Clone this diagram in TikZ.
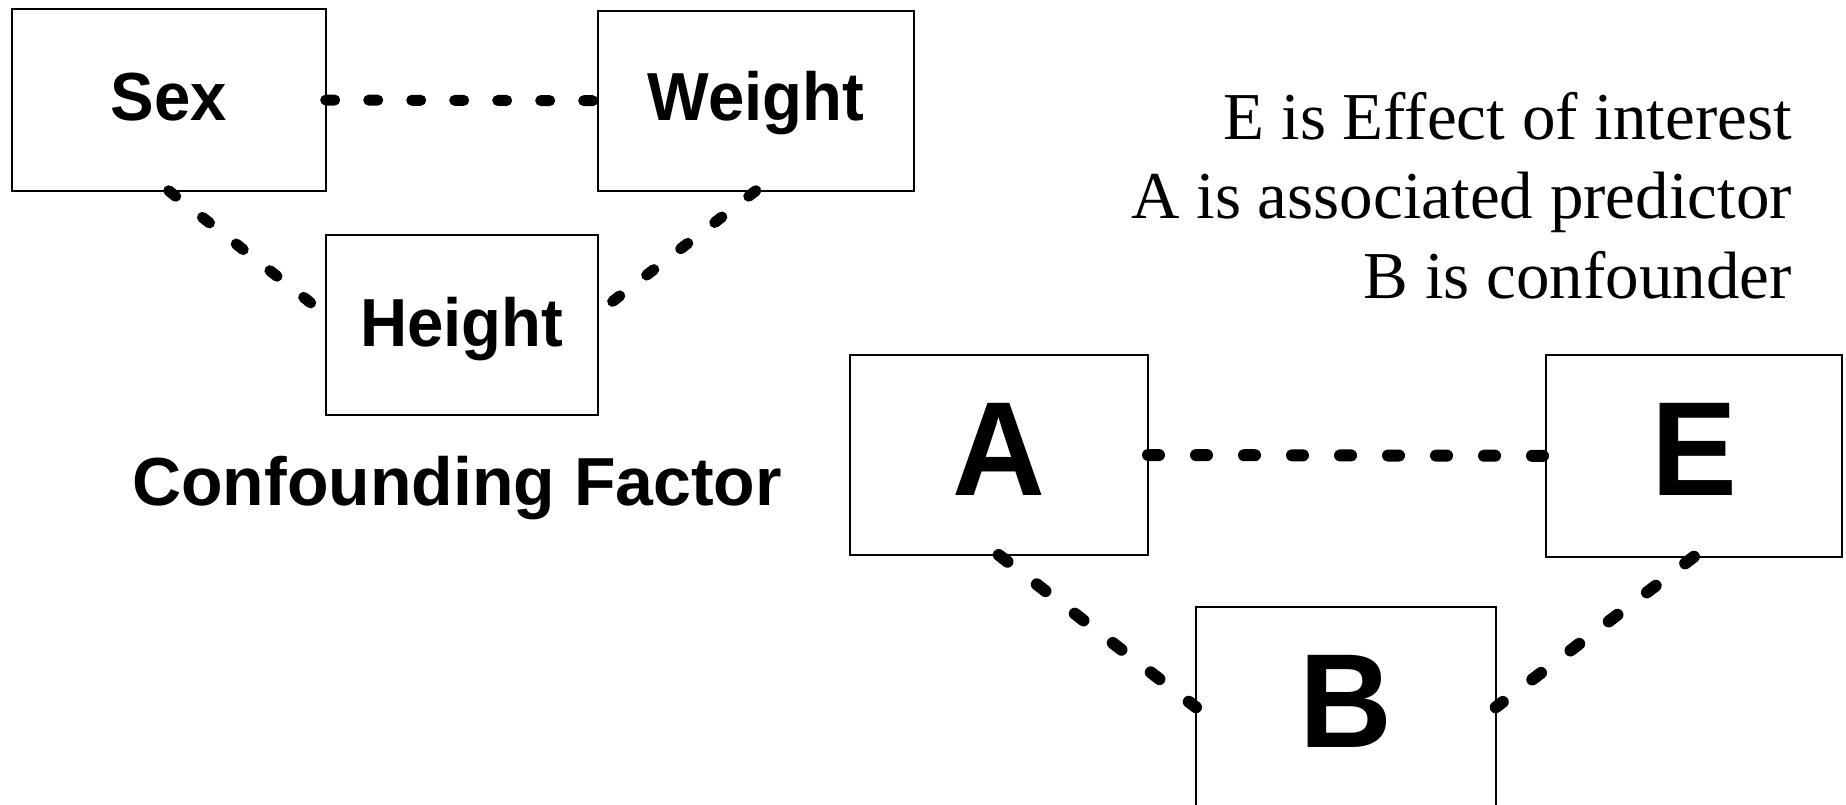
\documentclass[tikz,border=0pt]{standalone}
\usepackage{fontspec}
\setmainfont{Liberation Serif}
\setsansfont{Liberation Sans}
\newfontfamily\narrowsans{Liberation Sans}[FakeStretch=0.96]
\usetikzlibrary{calc}

\begin{document}
\begin{tikzpicture}[x=1pt,y=-1pt,
  % framed box; the argument lifts the label a little above the centre
  box/.style={draw, line width=2pt, inner sep=0pt, outer sep=0pt,
    anchor=north west, text height=48.7pt, text depth=#1,
    font=\narrowsans\bfseries\fontsize{68}{68}\selectfont},
  bigbox/.style={draw, line width=2pt, inner sep=0pt, outer sep=0pt,
    anchor=north west, text height=96pt, text depth=16pt,
    font=\narrowsans\bfseries\fontsize{134}{134}\selectfont},
  linkA/.style={line width=11pt, line cap=round, dash pattern=on 9pt off 34pt},
  linkB/.style={line width=12pt, line cap=round, dash pattern=on 11pt off 37pt},
  note/.style={anchor=base east, inner sep=0pt, font=\fontsize{67}{80}\selectfont}]

\useasboundingbox (0,0) rectangle (1846,805);

% example: sex, weight and height
\node[box=8pt, minimum width=314pt, minimum height=181.3pt] (sex) at (11.7,9.4) {Sex};
\node[box=9pt, minimum width=315.7pt, minimum height=180pt] (weight) at (598,10.7) {Weight};
\node[box=5pt, minimum width=272.3pt, minimum height=180pt] (height) at (325.7,234.7) {Height};

\node[anchor=base, inner sep=0pt, font=\sffamily\bfseries\fontsize{68}{68}\selectfont]
  (title) at (457,505) {Confounding Factor};

\draw[linkA] (sex.east) -- (weight.west);
\draw[linkA] (sex.south) -- ($(height.west)+(0,-10)$);
\draw[linkA] (weight.south) -- ($(height.east)+(0,-12)$);

% general scheme: A, E and the confounder B
\node[bigbox, minimum width=298.4pt, minimum height=200pt] (A) at (849.6,355) {A};
\node[bigbox, minimum width=296.2pt, minimum height=201.7pt] (E) at (1545.8,355) {E};
\node[bigbox, minimum width=299.7pt, minimum height=200pt] (B) at (1196,607.3) {B};

\draw[linkB] (A.east) -- (E.west);
\draw[linkB] (A.south) -- (B.west);
\draw[linkB] (E.south) -- (B.east);

% legend
\node[note] (note1) at (1792,139.3) {E is Effect of interest};
\node[note] (note2) at (1792,218.6) {A is associated predictor};
\node[note] (note3) at (1792,298.3) {B is confounder};
\end{tikzpicture}
\end{document}
